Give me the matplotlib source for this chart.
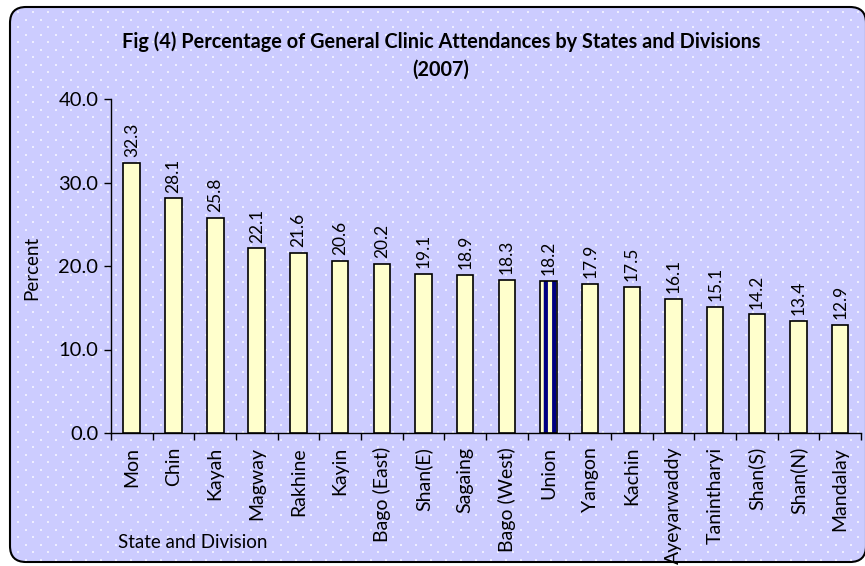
import numpy as np
import matplotlib
matplotlib.use("Agg")
import matplotlib.pyplot as plt
from matplotlib.patches import FancyBboxPatch

# Data
states = ["Mon", "Chin", "Kayah", "Magway", "Rakhine", "Kayin", "Bago (East)",
          "Shan(E)", "Sagaing", "Bago (West)", "Union", "Yangon", "Kachin",
          "Ayeyarwaddy", "Tanintharyi", "Shan(S)", "Shan(N)", "Mandalay"]
percent = [32.3, 28.1, 25.8, 22.1, 21.6, 20.6, 20.2, 19.1, 18.9, 18.3,
           18.2, 17.9, 17.5, 16.1, 15.1, 14.2, 13.4, 12.9]
y_ticks = [0, 10, 20, 30, 40]

plt.rcParams['font.family'] = ['Lato', 'DejaVu Sans']
plt.rcParams['hatch.linewidth'] = 3.0

W, H = 865, 566
fig = plt.figure(figsize=(W / 100, H / 100), dpi=100)
fig.patch.set_facecolor("white")

# Background panel with rounded border and dot pattern
bg = fig.add_axes([0, 0, 1, 1])
bg.set_xlim(0, W)
bg.set_ylim(H, 0)
bg.axis("off")
panel = FancyBboxPatch((10, 7), 856, 555, boxstyle="round,pad=0,rounding_size=16",
                       facecolor="#CCCCFF", edgecolor="black", linewidth=1.5)
bg.add_patch(panel)
dx, dy = 15, 7.5
pts = []
for j, yy in enumerate(np.arange(12, H - 6, dy)):
    off = 0 if j % 2 == 0 else dx / 2
    for xx in np.arange(18 + off, W - 4, dx):
        pts.append((xx, yy))
pts = np.array(pts)
bg.scatter(pts[:, 0], pts[:, 1], s=2.5, c="#EEEEFF", marker="s", linewidths=0)

# Main chart
ax = fig.add_axes([111 / W, 1 - 433 / H, (861 - 111) / W, (433 - 99) / H])
ax.patch.set_alpha(0)
x = np.arange(len(states))
ui = states.index("Union")
plain = [i for i in x if i != ui]
ax.bar([x[i] for i in plain], [percent[i] for i in plain], width=0.4,
       color="#FFFFCC", edgecolor="black", linewidth=1.2, zorder=3)
# Union bar: navy stripes on yellow with black outline
ax.bar(x[ui], percent[ui], width=0.4, color="#FFFFCC", edgecolor="#000080",
       hatch="||", linewidth=0, zorder=3)
ax.bar(x[ui], percent[ui], width=0.4, fill=False, edgecolor="black",
       linewidth=1.2, zorder=4)

for xi, v in zip(x, percent):
    ax.text(xi, v + 0.7, f"{v:.1f}", rotation=90, ha="center", va="bottom", fontsize=12.5)

ax.set_xlim(-0.5, len(states) - 0.5)
ax.set_ylim(0, 40)
ax.set_yticks(y_ticks)
ax.set_yticklabels([f"{t:.1f}" for t in y_ticks], fontsize=14.5)
ax.set_xticks(np.arange(-0.5, len(states), 1.0))
ax.set_xticklabels([])
ax.set_xticks(x, minor=True)
ax.set_xticklabels(states, minor=True, rotation=90, fontsize=14)
ax.tick_params(axis="x", which="minor", length=0, pad=10)
ax.tick_params(axis="x", which="major", length=5, width=1, direction="out")
ax.tick_params(axis="y", length=5, width=1, direction="out", pad=4)
for s in ["top", "right"]:
    ax.spines[s].set_visible(False)
ax.spines["left"].set_linewidth(1)
ax.spines["bottom"].set_linewidth(1)

fig.text(441 / W, 1 - 42 / H, "Fig (4) Percentage of General Clinic Attendances by States and Divisions",
         ha="center", va="center", fontsize=14.3, fontweight="bold")
fig.text(441 / W, 1 - 70 / H, "(2007)", ha="center", va="center", fontsize=14.3, fontweight="bold")
fig.text(32 / W, 1 - 268 / H, "Percent", rotation=90, ha="center", va="center", fontsize=13.5)
fig.text(118 / W, 1 - 543 / H, "State and Division", ha="left", va="center", fontsize=13.5)

fig.savefig("out.png", dpi=100)
